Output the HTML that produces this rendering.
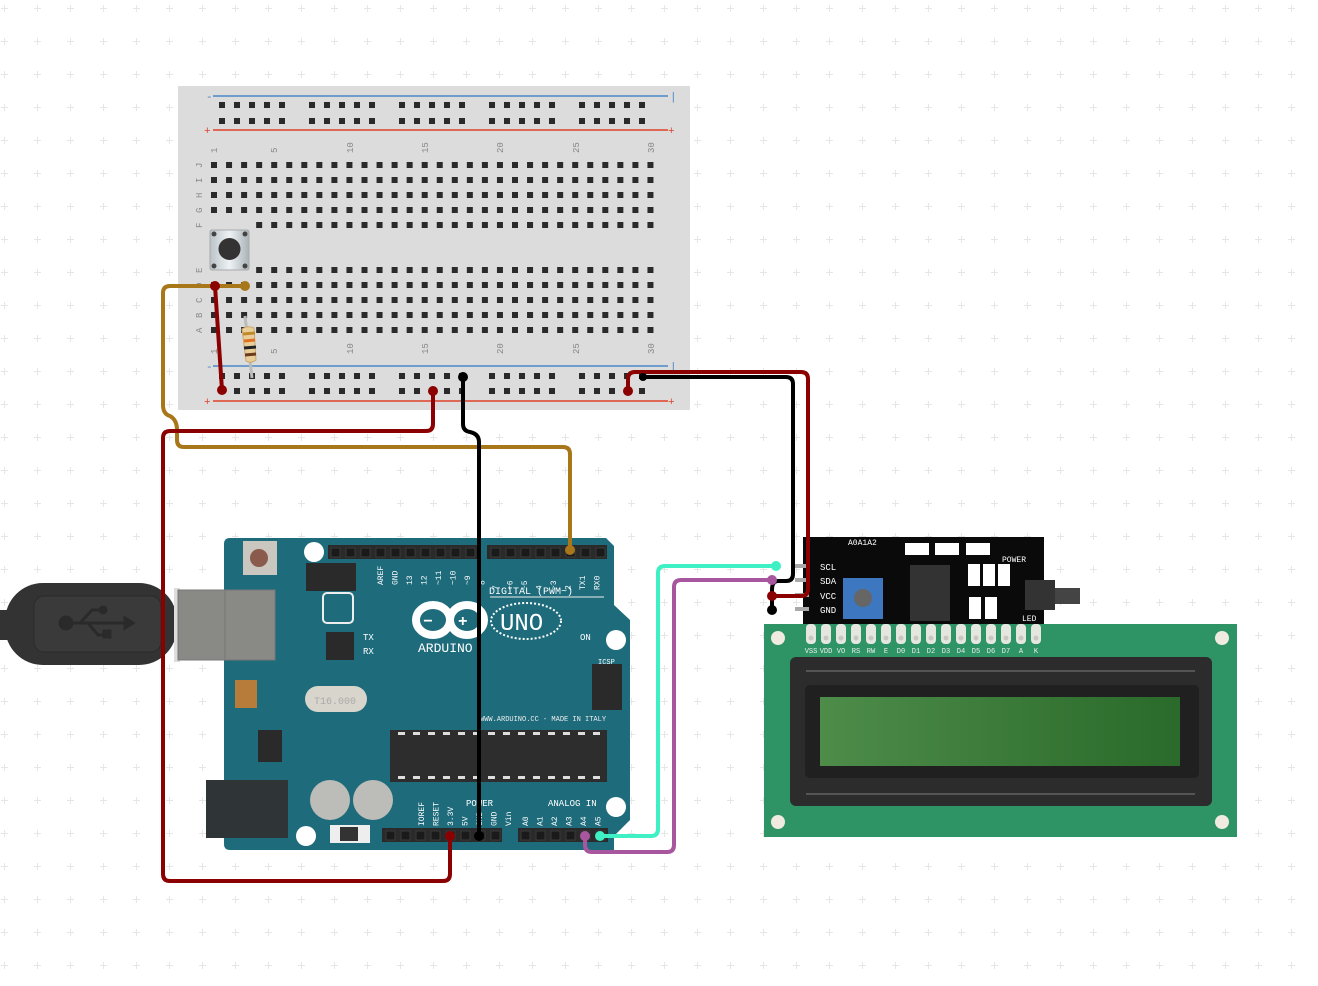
<!DOCTYPE html>
<html><head><meta charset="utf-8">
<style>
html,body{margin:0;padding:0;background:#fff;}
svg{display:block;}
text{font-family:"Liberation Mono",monospace;}
</style></head>
<body>
<svg id="s" width="1318" height="986" viewBox="0 0 1318 986" xmlns="http://www.w3.org/2000/svg">
<defs>
<pattern id="grid" width="33" height="33" patternUnits="userSpaceOnUse" x="-12" y="-8">
<path d="M16.5 13v7M13 16.5h7" stroke="#e6e6e6" stroke-width="1"/>
</pattern>
<linearGradient id="lcd" x1="0" x2="1" y1="0" y2="0"><stop offset="0" stop-color="#4d8c49"/><stop offset="1" stop-color="#2a6a2a"/></linearGradient>
<linearGradient id="btn" x1="0" x2="1"><stop offset="0" stop-color="#b9c3c8"/><stop offset=".5" stop-color="#eef2f4"/><stop offset="1" stop-color="#a9b3b8"/></linearGradient>
</defs>
<rect width="1318" height="986" fill="url(#grid)"/>

<!-- breadboard -->
<rect x="178" y="86" width="512" height="324" fill="#dcdcdc"/>
<line x1="213" y1="96" x2="668" y2="96" stroke="#4a86c8" stroke-width="1.5"/>
<line x1="213" y1="130" x2="668" y2="130" stroke="#e0402a" stroke-width="1.5"/>
<line x1="213" y1="366" x2="668" y2="366" stroke="#4a86c8" stroke-width="1.5"/>
<line x1="213" y1="401" x2="668" y2="401" stroke="#e0402a" stroke-width="1.5"/>
<g font-size="11" fill="#e0402a" font-family="Liberation Sans"><text x="204" y="134">+</text><text x="668" y="134">+</text><text x="204" y="405">+</text><text x="668" y="405">+</text></g>
<g font-size="11" fill="#4a86c8" font-family="Liberation Sans"><text x="206" y="100">-</text><text x="670" y="100">|</text><text x="206" y="370">-</text><text x="670" y="370">|</text></g>
<g id="holes"></g>
<g id="labels" font-size="9" fill="#888"></g>

<!-- USB -->
<rect x="0" y="610" width="10" height="30" fill="#333"/>
<rect x="5" y="583" width="172" height="82" rx="38" fill="#333"/>
<rect x="34" y="596" width="127" height="56" rx="10" fill="#3a3a3a" stroke="#2a2a2a"/>
<g stroke="#2a2a2a" stroke-width="3" fill="#2a2a2a"><circle cx="66" cy="623" r="6"/><line x1="66" y1="623" x2="125" y2="623"/><path d="M80 623l12-13h8M88 623l10 12h8" fill="none"/><circle cx="103" cy="610" r="3"/><rect x="104" y="631" width="6" height="6"/><path d="M125 618l8 5-8 5z"/></g>
<rect x="174" y="588" width="6" height="74" fill="#ddd"/>
<rect x="179" y="590" width="96" height="70" fill="#898985" stroke="#777" />
<line x1="225" y1="590" x2="225" y2="660" stroke="#777"/>

<!-- Arduino -->
<path d="M230 538 H606 L614 546 V605 L630 620 V820 L614 836 V850 H230 Q224 850 224 844 V544 Q224 538 230 538Z" fill="#1e6b7b"/>
<rect x="224" y="540" width="406" height="310" fill="none"/>
<circle cx="314" cy="552" r="10" fill="#fff"/>
<circle cx="616" cy="640" r="10" fill="#fff"/>
<circle cx="616" cy="807" r="10" fill="#fff"/>
<circle cx="306" cy="836" r="10" fill="#fff"/>
<rect x="243" y="541" width="34" height="34" fill="#c9c7bf"/><circle cx="259" cy="558" r="9" fill="#8a5a4c"/>
<rect x="178" y="590" width="97" height="70" fill="#898985" stroke="#777"/><line x1="225" y1="590" x2="225" y2="660" stroke="#777"/>
<!-- headers -->
<rect x="328" y="545" width="150" height="14" fill="#2a2a2a"/>
<rect x="487" y="545" width="120" height="14" fill="#2a2a2a"/>
<rect x="382" y="828" width="120" height="14" fill="#2a2a2a"/>
<rect x="518" y="828" width="90" height="14" fill="#2a2a2a"/>
<g id="pins"></g>
<rect x="306" y="563" width="50" height="28" fill="#2a2a2a"/>
<rect x="592" y="664" width="30" height="46" fill="#2a2a2a"/>
<rect x="323" y="593" width="30" height="30" rx="4" fill="none" stroke="#eee" stroke-width="2"/>
<rect x="326" y="632" width="28" height="28" fill="#2a2a2a"/>
<rect x="390" y="730" width="217" height="52" fill="#2d2d2d"/>
<g fill="#ddd" id="chipmarks"></g>
<rect x="305" y="686" width="62" height="26" rx="13" fill="#d8d5cc"/>
<text x="314" y="704" font-size="10" fill="#aaa">T16.000</text>
<rect x="206" y="780" width="82" height="58" fill="#2f3436"/>
<rect x="235" y="680" width="22" height="28" fill="#b77b3a"/>
<rect x="258" y="730" width="24" height="32" fill="#2a2a2a"/>
<circle cx="330" cy="800" r="20" fill="#bcbcb8"/><circle cx="373" cy="800" r="20" fill="#bcbcb8"/>
<rect x="330" y="825" width="40" height="18" fill="#eee"/><rect x="340" y="827" width="18" height="14" fill="#333"/>
<!-- logo -->
<g fill="none" stroke="#fff" stroke-width="8"><ellipse cx="433" cy="620" rx="17" ry="15"/><ellipse cx="467" cy="620" rx="17" ry="15"/></g>
<text x="423" y="626" font-size="16" fill="#fff" font-family="Liberation Sans" font-weight="bold">−</text>
<text x="458" y="626" font-size="16" fill="#fff" font-family="Liberation Sans" font-weight="bold">+</text>
<ellipse cx="526" cy="621" rx="35" ry="18" fill="none" stroke="#fff" stroke-width="2" stroke-dasharray="2 2"/>
<text x="500" y="630" font-size="24" fill="#fff" font-family="Liberation Sans">UNO</text>
<text x="418" y="652" font-size="13" fill="#fff">ARDUINO</text>
<text x="489" y="594" font-size="10" fill="#fff">DIGITAL (PWM~)</text>
<line x1="490" y1="597" x2="604" y2="597" stroke="#eee"/>
<text x="480" y="721" font-size="7" fill="#eee">WWW.ARDUINO.CC - MADE IN ITALY</text>
<text x="466" y="806" font-size="9" fill="#fff">POWER</text>
<text x="548" y="806" font-size="9" fill="#fff">ANALOG IN</text>
<text x="580" y="640" font-size="9" fill="#fff">ON</text>
<text x="363" y="640" font-size="9" fill="#fff">TX</text><text x="363" y="654" font-size="9" fill="#fff">RX</text>
<text x="598" y="664" font-size="7" fill="#fff">ICSP</text>
<g font-size="8" fill="#fff" id="pinlbl"></g>

<!-- LCD -->
<rect x="764" y="624" width="473" height="213" fill="#2e9466"/>
<g fill="#f0ebe0"><circle cx="778" cy="638" r="7"/><circle cx="1222" cy="638" r="7"/><circle cx="778" cy="822" r="7"/><circle cx="1222" cy="822" r="7"/></g>
<rect x="790" y="657" width="422" height="149" rx="6" fill="#2c2c2c"/>
<line x1="806" y1="671" x2="1195" y2="671" stroke="#555" stroke-width="2"/>
<line x1="806" y1="794" x2="1195" y2="794" stroke="#555" stroke-width="2"/>
<rect x="805" y="685" width="394" height="93" rx="5" fill="#202020"/>
<rect x="820" y="697" width="360" height="69" fill="url(#lcd)"/>
<g id="lcdpins"></g>
<!-- I2C -->
<rect x="803" y="537" width="241" height="87" fill="#0a0a0a"/>
<rect x="843" y="578" width="40" height="41" fill="#3d77c0"/><circle cx="863" cy="598" r="9" fill="#666"/>
<rect x="910" y="565" width="40" height="56" fill="#333"/>
<rect x="1025" y="580" width="30" height="30" fill="#333"/><rect x="1055" y="588" width="25" height="16" fill="#444"/>
<g font-size="9" fill="#fff"><text x="820" y="570">SCL</text><text x="820" y="584">SDA</text><text x="820" y="599">VCC</text><text x="820" y="613">GND</text><text x="848" y="545" font-size="8">A0A1A2</text><text x="1002" y="562" font-size="8">POWER</text><text x="1022" y="621" font-size="8">LED</text></g>
<g fill="#fff"><rect x="905" y="543" width="24" height="12"/><rect x="935" y="543" width="24" height="12"/><rect x="966" y="543" width="24" height="12"/><rect x="968" y="564" width="12" height="22"/><rect x="983" y="564" width="12" height="22"/><rect x="998" y="564" width="12" height="22"/><rect x="969" y="597" width="12" height="22"/><rect x="985" y="597" width="12" height="22"/></g>
<g fill="#aaa"><rect x="795" y="564" width="14" height="4"/><rect x="795" y="578" width="14" height="4"/><rect x="795" y="593" width="14" height="4"/><rect x="795" y="607" width="14" height="4"/></g>

<!-- button & resistor -->
<rect x="210" y="230" width="39" height="40" rx="2" fill="url(#btn)" stroke="#aaa"/>
<circle cx="229.5" cy="249" r="11" fill="#333"/>
<g fill="#444"><circle cx="214" cy="234" r="2.5"/><circle cx="245" cy="234" r="2.5"/><circle cx="214" cy="266" r="2.5"/><circle cx="245" cy="266" r="2.5"/></g>
<line x1="245" y1="316" x2="252" y2="378" stroke="#bbb" stroke-width="3"/>
<path d="M242 329 Q248 325 254 328 L256 360 Q251 364 246 361Z" fill="#e8cf9a" stroke="#c9a870"/>
<g stroke-width="3"><line x1="243" y1="334" x2="255" y2="333" stroke="#c08a2a"/><line x1="244" y1="341" x2="255" y2="340" stroke="#e07020"/><line x1="244" y1="348" x2="256" y2="347" stroke="#222"/><line x1="245" y1="355" x2="256" y2="354" stroke="#6a3a1a"/></g>

<!-- wires -->
<g fill="none" stroke-width="4" stroke-linejoin="round" stroke-linecap="round">
<path d="M245 286 H170 Q163 286 163 293 V405 Q163 414 170 416 Q177 420 177 430 V440 Q177 447 184 447 H563 Q570 447 570 454 V550" stroke="#a8771a"/>
<path d="M215 286 L222 390" stroke="#8b0000"/>
<path d="M433 391 V424 Q433 431 426 431 H170 Q163 431 163 438 V874 Q163 881 170 881 H443 Q450 881 450 874 V836" stroke="#8b0000"/>
<path d="M463 377 V424 Q463 431 470 432 Q479 434 479 442 V836" stroke="#000"/>
<path d="M628 391 V379 Q628 372 635 372 H801 Q808 372 808 379 V589 Q808 596 801 596 H772" stroke="#8b0000"/>
<path d="M643 377 H786 Q793 377 793 384 V574 Q793 581 786 581 H778 Q772 581 772 590 V610" stroke="#000"/>
<path d="M600 836 H651 Q658 836 658 829 V573 Q658 566 665 566 H776" stroke="#3ef0c4"/>
<path d="M585 836 V845 Q585 852 592 852 H667 Q674 852 674 845 V587 Q674 580 681 580 H772" stroke="#a8579f"/>
</g>
<g>
<circle cx="245" cy="286" r="5" fill="#a8771a"/><circle cx="570" cy="550" r="5" fill="#a8771a"/>
<circle cx="215" cy="286" r="5" fill="#8b0000"/><circle cx="222" cy="390" r="5" fill="#8b0000"/>
<circle cx="433" cy="391" r="5" fill="#8b0000"/><circle cx="450" cy="836" r="5" fill="#8b0000"/>
<circle cx="628" cy="391" r="5" fill="#8b0000"/><circle cx="772" cy="596" r="5" fill="#8b0000"/>
<circle cx="463" cy="377" r="5" fill="#000"/><circle cx="479" cy="836" r="5" fill="#000"/>
<circle cx="643" cy="377" r="4" fill="#000"/><circle cx="772" cy="610" r="5" fill="#000"/>
<circle cx="600" cy="836" r="5" fill="#3ef0c4"/><circle cx="776" cy="566" r="5" fill="#3ef0c4"/>
<circle cx="585" cy="836" r="5" fill="#a8579f"/><circle cx="772" cy="580" r="5" fill="#a8579f"/>
</g>
</svg>
<script>
var NS="http://www.w3.org/2000/svg";
function el(p,t,a,txt){var e=document.createElementNS(NS,t);for(var k in a)e.setAttribute(k,a[k]);if(txt)e.textContent=txt;document.getElementById(p).appendChild(e);return e;}
function hole(x,y){el("holes","rect",{x:x-3,y:y-3,width:6,height:6,fill:"#2a2a2a"});}
var rows=[165,180,195,210,225,270,285,300,315,330];
for(var c=0;c<30;c++){var x=214+c*15.05;for(var r=0;r<10;r++){var y=rows[r];if(x<250&&x>205&&(y==225||y==270))continue;hole(x,y);}}
[105,121,376,391].forEach(function(y){for(var g=0;g<5;g++)for(var i=0;i<5;i++)hole(222+g*90+i*15,y);});
[[1,214],[5,274],[10,350],[15,425],[20,500],[25,576],[30,651]].forEach(function(n){
 el("labels","text",{x:0,y:0,transform:"translate("+(n[1]+3)+",153) rotate(-90)"},""+n[0]);
 el("labels","text",{x:0,y:0,transform:"translate("+(n[1]+3)+",354) rotate(-90)"},""+n[0]);});
"JIHGF".split("").forEach(function(l,i){el("labels","text",{x:0,y:0,transform:"translate(202,"+(rows[i]+3)+") rotate(-90)"},l);});
"EDCBA".split("").forEach(function(l,i){el("labels","text",{x:0,y:0,transform:"translate(202,"+(rows[i+5]+3)+") rotate(-90)"},l);});
// arduino pins
function pin(x,y){el("pins","rect",{x:x-4,y:y-4,width:9,height:9,fill:"#1a1a1a",stroke:"#3a3a3a"});}
for(var i=0;i<10;i++)pin(335+i*15,552);
for(var i=0;i<8;i++)pin(495+i*15,552);
for(var i=0;i<8;i++)pin(390+i*15,835);
for(var i=0;i<6;i++)pin(525+i*15,835);
for(var i=0;i<14;i++){el("chipmarks","rect",{x:398+i*15,y:732,width:7,height:3});el("chipmarks","rect",{x:398+i*15,y:776,width:7,height:3});}
["AREF","GND","13","12","~11","~10","~9","8"].forEach(function(t,i){el("pinlbl","text",{x:0,y:0,transform:"translate("+(383+i*14.5)+",585) rotate(-90)"},t);});
["7","~6","~5","4","~3","2","TX1","RX0"].forEach(function(t,i){el("pinlbl","text",{x:0,y:0,transform:"translate("+(498+i*14.5)+",590) rotate(-90)"},t);});
["IOREF","RESET","3.3V","5V","GND","GND","Vin"].forEach(function(t,i){el("pinlbl","text",{x:0,y:0,transform:"translate("+(424+i*14.5)+",826) rotate(-90)"},t);});
["A0","A1","A2","A3","A4","A5"].forEach(function(t,i){el("pinlbl","text",{x:0,y:0,transform:"translate("+(528+i*14.5)+",826) rotate(-90)"},t);});
var lb=["VSS","VDD","VO","RS","RW","E","D0","D1","D2","D3","D4","D5","D6","D7","A","K"];
for(var i=0;i<16;i++){var x=811+i*15;el("lcdpins","rect",{x:x-5,y:624,width:10,height:20,rx:4,fill:"#e6e6e0"});el("lcdpins","circle",{cx:x,cy:638,r:2.5,fill:"#c8c8c0"});el("lcdpins","text",{x:x,y:653,"font-size":7,fill:"#eee","text-anchor":"middle"},lb[i]);}
</script>
</body></html>
